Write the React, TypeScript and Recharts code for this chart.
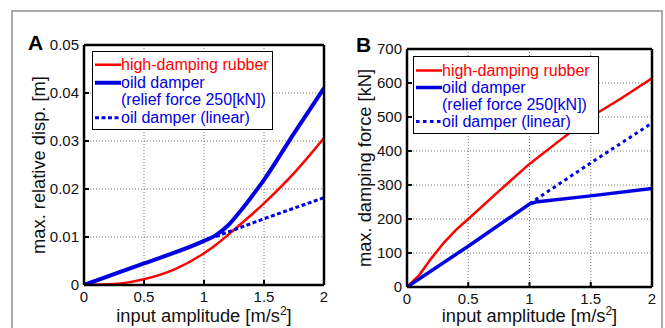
import { LineChart, Line, XAxis, YAxis, CartesianGrid, Legend, Label } from 'recharts'

const FONT = '"Liberation Sans", Arial, Helvetica, sans-serif'
const RED = '#ff0000'
const BLUE = '#0000e0'

const X_TICKS = [0, 0.5, 1, 1.5, 2]
const X_TICK_LABELS = ['0', '0.5', '1', '1.5', '2']

const NAMES = ['high-damping rubber', 'oild damper\n(relief force 250[kN])', 'oil damper (linear)']

// A: max. relative displacement [m]
const A_Y_TICKS = [0, 0.01, 0.02, 0.03, 0.04, 0.05]
const A_RUBBER_AMP = [0, 0.25, 0.5, 0.75, 1, 1.1, 1.25, 1.5, 1.75, 2]
const A_RUBBER = [0, 0.0002, 0.0012, 0.0032, 0.0066, 0.0084, 0.0115, 0.017, 0.0233, 0.0306]
const A_RELIEF_AMP = [0, 0.5, 1, 1.1, 1.2, 1.3, 1.4, 1.5, 1.75, 2]
const A_RELIEF = [0, 0.0045, 0.0092, 0.0104, 0.0124, 0.0153, 0.0185, 0.0219, 0.0316, 0.041]
const A_LINEAR_AMP = [1.1, 1.5, 2]
const A_LINEAR = [0.0101, 0.0138, 0.0182]

// B: max. damping force [kN]
const B_Y_TICKS = [0, 100, 200, 300, 400, 500, 600, 700]
const B_RUBBER_AMP = [0, 0.1, 0.2, 0.3, 0.4, 0.5, 0.75, 1, 1.25, 1.5, 1.75, 2]
const B_RUBBER = [0, 35, 85, 130, 168, 200, 282, 362, 432, 500, 555, 614]
const B_RELIEF_AMP = [0, 0.5, 1, 1.05, 1.5, 2]
const B_RELIEF = [0, 120, 244, 250, 268, 290]
const B_LINEAR_AMP = [1, 1.5, 2]
const B_LINEAR = [245, 365, 482]

const zip = (xs: number[], ys: number[]) => xs.map((x, i) => ({ x, y: ys[i] }))

type Series = { data: { x: number; y: number }[]; color: string; width: number; dash?: string; curve: 'linear' | 'monotone' }

function LegendBox({ payload, w, h, rowH, padTop }: any) {
  // keep the plotting order, not alphabetical
  const items = [...(payload || [])].sort((a: any, b: any) => NAMES.indexOf(a.value) - NAMES.indexOf(b.value))
  return (
    <div style={{
      width: w, height: h, boxSizing: 'border-box', background: '#fff', border: '1.5px solid #000',
      paddingTop: padTop, paddingLeft: 2, fontFamily: FONT, fontSize: 16, lineHeight: `${rowH}px`,
    }}>
      {items.map((p: any, i: number) => (
        <div key={i} style={{ display: 'flex', alignItems: 'flex-start' }}>
          <svg width={26} height={rowH} style={{ flex: 'none' }}>
            <line x1={0} x2={26} y1={rowH / 2} y2={rowH / 2} stroke={p.color}
              strokeWidth={p.payload?.strokeWidth ?? 3} strokeDasharray={p.payload?.strokeDasharray} />
          </svg>
          <span style={{ color: p.color, whiteSpace: 'pre' }}>{p.value}</span>
        </div>
      ))}
    </div>
  )
}

interface PanelProps {
  left: number
  width: number
  top: number
  bottom: number
  yWidth: number
  right: number
  yTicks: number[]
  yLabel: string
  yLabelX: number
  series: Series[]
  legend: { left: number; top: number; w: number; h: number; rowH: number; padTop: number }
}

function Panel({ left, width, top, bottom, yWidth, right, yTicks, yLabel, yLabelX, series, legend }: PanelProps) {
  const tickStyle = { fill: '#111', fontSize: 15, fontFamily: FONT }
  const axisLine = { stroke: '#000', strokeWidth: 2.5 }
  const tickLine = { stroke: '#000', strokeWidth: 2 }
  const yDomain = [yTicks[0], yTicks[yTicks.length - 1]]
  return (
    <div style={{ position: 'absolute', left, top: 0 }}>
      <LineChart width={width} height={328} margin={{ top: top - 1, right, bottom: 0, left: 0 }}>
        <CartesianGrid stroke="#777" strokeDasharray="1 2" />
        <XAxis dataKey="x" type="number" domain={[0, 2]} ticks={X_TICKS} interval={0} allowDataOverflow
          tickFormatter={(v: number) => X_TICK_LABELS[X_TICKS.indexOf(v)]}
          height={328 - bottom} tickSize={-5} tickMargin={11} tick={tickStyle} axisLine={axisLine} tickLine={tickLine}>
          <Label content={({ viewBox }: any) => (
            <text x={viewBox.x + viewBox.width / 2} y={322} textAnchor="middle" fontFamily={FONT} fontSize={18.3} fill="#111">
              input amplitude [m/s<tspan fontSize={12} dy={-7}>2</tspan><tspan dy={7}>]</tspan>
            </text>
          )} />
        </XAxis>
        <XAxis xAxisId="top" orientation="top" type="number" domain={[0, 2]} ticks={X_TICKS} interval={0}
          height={1} tickSize={-5} tick={false} axisLine={axisLine} tickLine={tickLine} />
        <YAxis type="number" domain={yDomain} ticks={yTicks} interval={0} allowDataOverflow width={yWidth}
          tickSize={-5} tickMargin={10} tick={tickStyle} axisLine={axisLine} tickLine={tickLine}>
          <Label content={({ viewBox }: any) => {
            const cy = viewBox.y + viewBox.height / 2
            return (
              <text x={yLabelX} y={cy} transform={`rotate(-90 ${yLabelX} ${cy})`} textAnchor="middle"
                fontFamily={FONT} fontSize={18.3} fill="#111">{yLabel}</text>
            )
          }} />
        </YAxis>
        <YAxis yAxisId="right" orientation="right" type="number" domain={yDomain} ticks={yTicks} interval={0}
          width={1} tickSize={-5} tick={false} axisLine={axisLine} tickLine={tickLine} />
        {series.map((s, i) => (
          <Line key={i} data={s.data} dataKey="y" name={NAMES[i]} type={s.curve} stroke={s.color}
            strokeWidth={s.width} strokeDasharray={s.dash} dot={false} isAnimationActive={false} />
        ))}
        <Legend layout="vertical" align="center" verticalAlign="middle"
          wrapperStyle={{ left: legend.left, top: legend.top, width: legend.w, height: legend.h }}
          content={(props: any) => <LegendBox {...props} {...legend} />} />
      </LineChart>
    </div>
  )
}

export default function App() {
  const seriesA: Series[] = [
    { data: zip(A_RUBBER_AMP, A_RUBBER), color: RED, width: 2.5, curve: 'monotone' },
    { data: zip(A_RELIEF_AMP, A_RELIEF), color: BLUE, width: 4, curve: 'monotone' },
    { data: zip(A_LINEAR_AMP, A_LINEAR), color: BLUE, width: 3, dash: '4 2.5', curve: 'linear' },
  ]
  const seriesB: Series[] = [
    { data: zip(B_RUBBER_AMP, B_RUBBER), color: RED, width: 2.5, curve: 'linear' },
    { data: zip(B_RELIEF_AMP, B_RELIEF), color: BLUE, width: 3.5, curve: 'linear' },
    { data: zip(B_LINEAR_AMP, B_LINEAR), color: BLUE, width: 3, dash: '3.5 3.5', curve: 'linear' },
  ]
  return (
    <div style={{ position: 'absolute', left: 0, top: 0, width: 665, height: 328, overflow: 'hidden', background: '#fff' }}>
      <div style={{ position: 'absolute', left: 11, top: 10, width: 652, height: 400, border: '2px solid #aaa', boxSizing: 'border-box' }} />
      <Panel left={0} width={340} top={45} bottom={285} yWidth={84} right={15} yTicks={A_Y_TICKS}
        yLabel="max. relative disp. [m]" yLabelX={45} series={seriesA}
        legend={{ left: 92, top: 51, w: 181, h: 79, rowH: 17.5, padTop: 4 }} />
      <Panel left={330} width={335} top={49} bottom={287} yWidth={77} right={12} yTicks={B_Y_TICKS}
        yLabel="max. damping force [kN]" yLabelX={41} series={seriesB}
        legend={{ left: 83, top: 56, w: 186, h: 78, rowH: 17, padTop: 5 }} />
      <div style={{ position: 'absolute', left: 28, top: 31, fontFamily: FONT, fontWeight: 'bold', fontSize: 21 }}>A</div>
      <div style={{ position: 'absolute', left: 356, top: 33, fontFamily: FONT, fontWeight: 'bold', fontSize: 21 }}>B</div>
    </div>
  )
}
